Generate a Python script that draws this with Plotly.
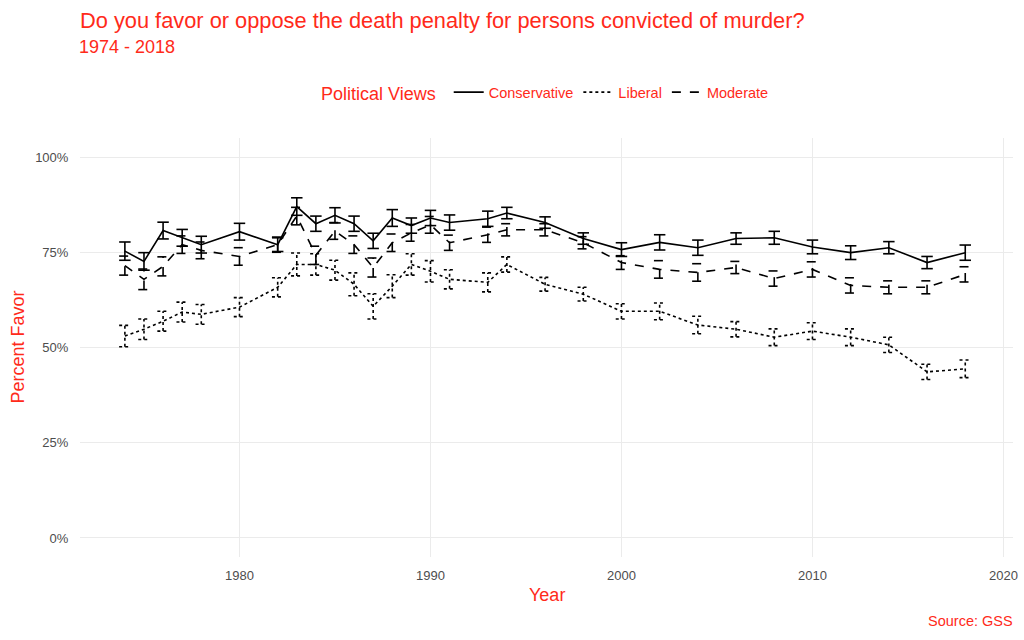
"""
Death penalty support by political views (GSS, 1974-2018).
"""

import plotly.graph_objects as go

RED = "#FF2A1A"
FONT = "Liberation Sans, Arial, sans-serif"

years = [1974, 1975, 1976, 1977, 1978, 1980, 1982, 1983, 1984, 1985,
         1986, 1987, 1988, 1989, 1990, 1991, 1993, 1994, 1996, 1998,
         2000, 2002, 2004, 2006, 2008, 2010, 2012, 2014, 2016, 2018]

# percent favor
conservative = [75.3, 72.6, 80.7, 78.8, 77.0, 80.4, 77.0, 87.0, 82.5, 84.7,
                82.5, 78.0, 84.0, 82.0, 84.0, 82.8, 83.8, 85.3, 82.8, 78.6,
                75.7, 77.6, 76.2, 78.6, 78.8, 76.4, 74.9, 76.2, 72.3, 74.9]
conservative_err = [2.4, 2.3, 2.2, 2.2, 2.2, 2.2, 1.8, 2.3, 2.0, 2.0,
                    2.0, 2.0, 2.2, 2.0, 2.0, 2.0, 2.0, 1.5, 1.5, 1.5,
                    1.8, 2.0, 2.0, 1.5, 1.7, 1.8, 1.8, 1.6, 1.6, 2.0]

liberal = [53.0, 54.8, 56.9, 59.3, 58.7, 60.6, 65.8, 71.8, 71.8, 70.3,
           66.6, 60.8, 66.1, 71.8, 70.0, 67.9, 67.1, 71.8, 66.6, 64.0,
           59.5, 59.5, 55.9, 54.8, 52.7, 54.3, 52.7, 50.7, 43.6, 44.4]
liberal_err = [2.8, 2.7, 2.6, 2.6, 2.6, 2.5, 2.5, 3.0, 2.8, 2.6,
               3.0, 3.3, 3.0, 2.8, 2.8, 2.5, 2.5, 2.0, 1.8, 1.8,
               2.0, 2.2, 2.3, 2.0, 2.2, 2.2, 2.2, 2.0, 2.0, 2.3]

moderate = [71.5, 67.9, 71.3, 77.0, 75.5, 73.9, 77.0, 84.5, 74.2, 80.6,
            77.0, 71.0, 77.5, 80.1, 82.2, 77.5, 79.6, 80.9, 80.9, 77.5,
            72.3, 70.5, 69.7, 71.0, 68.1, 70.5, 66.3, 65.8, 65.8, 69.2]
moderate_err = [2.5, 2.7, 2.5, 2.3, 2.2, 2.3, 2.0, 2.3, 2.4, 2.2,
                2.3, 2.5, 2.3, 2.2, 2.2, 2.0, 2.0, 1.6, 1.6, 1.6,
                1.8, 2.3, 2.3, 1.6, 2.0, 2.0, 2.0, 1.7, 1.7, 2.0]

x_ticks = [1980, 1990, 2000, 2010, 2020]
y_ticks = [0, 25, 50, 75, 100]
y_labels = ["0%", "25%", "50%", "75%", "100%"]

series = [
    ("Conservative", conservative, conservative_err, "solid"),
    ("Liberal", liberal, liberal_err, "dot"),
    ("Moderate", moderate, moderate_err, "dash"),
]

CAP = 0.3  # half width of error bar caps, in years


def errorbar_path(xs, ys, errs):
    """Vertical bar + two caps per point, joined with None breaks."""
    px, py = [], []
    for x, y, e in zip(xs, ys, errs):
        lo, hi = y - e, y + e
        px += [x, x, None, x - CAP, x + CAP, None, x - CAP, x + CAP, None]
        py += [lo, hi, None, lo, lo, None, hi, hi, None]
    return px, py


fig = go.Figure()

for name, vals, errs, dash in series:
    ex, ey = errorbar_path(years, vals, errs)
    fig.add_trace(go.Scatter(
        x=ex, y=ey, mode="lines", showlegend=False, hoverinfo="skip",
        line=dict(color="black", width=1.6, dash=dash),
    ))
    fig.add_trace(go.Scatter(
        x=years, y=vals, mode="lines", name=name,
        line=dict(color="black", width=1.6, dash=dash),
    ))

fig.update_layout(
    width=1024, height=640,
    margin=dict(l=80, r=11, t=138, b=83),
    plot_bgcolor="white", paper_bgcolor="white",
    font=dict(family=FONT, color="#4D4D4D"),
    title=dict(
        text="Do you favor or oppose the death penalty for persons convicted of murder?",
        font=dict(size=21.8, color=RED, family=FONT),
        xref="container", x=80 / 1024, xanchor="left",
        yref="container", y=1 - 20 / 640, yanchor="middle",
    ),
    legend=dict(
        orientation="h", x=0.5, xanchor="center", y=1.107, yanchor="middle",
        title=dict(text="Political Views ", font=dict(size=18, color=RED)),
        font=dict(size=14.5, color=RED),
        itemwidth=30,
    ),
    showlegend=True,
)

fig.add_annotation(
    text="1974 - 2018", xref="paper", yref="paper", x=0, y=1,
    xanchor="left", yanchor="middle", yshift=138 - 47, xshift=-3,
    showarrow=False, font=dict(size=18, color=RED),
)
fig.add_annotation(
    text="Source: GSS", xref="paper", yref="paper", x=1, y=0,
    xanchor="right", yanchor="middle", yshift=-(621 - 557), xshift=2,
    showarrow=False, font=dict(size=14.5, color=RED),
)
fig.add_annotation(
    text="Year", xref="paper", yref="paper", x=0.5, y=0,
    xanchor="center", yanchor="middle", yshift=-38, showarrow=False,
    font=dict(size=18, color=RED),
)
fig.add_annotation(
    text="Percent Favor", xref="paper", yref="paper", x=0, y=0.5,
    xanchor="center", yanchor="middle", xshift=-63, textangle=-90,
    showarrow=False, font=dict(size=18, color=RED),
)

fig.update_xaxes(
    range=[1971.65, 2020.5], tickvals=x_ticks, automargin=False,
    showgrid=True, gridcolor="#EBEBEB", gridwidth=1.2, zeroline=False,
    showline=False, ticks="outside", ticklen=6, tickcolor="rgba(0,0,0,0)",
    tickfont=dict(size=13, color="#4D4D4D"),
)
fig.update_yaxes(
    range=[-5, 105], tickvals=y_ticks, ticktext=y_labels, automargin=False,
    showgrid=True, gridcolor="#EBEBEB", gridwidth=1.2, zeroline=False,
    showline=False, ticks="outside", ticklen=8, tickcolor="rgba(0,0,0,0)",
    tickfont=dict(size=13, color="#4D4D4D"),
)

# drop the browser's default body margin so the figure sits at the window origin
fig.write_html(
    "out.html",
    config={"displayModeBar": False},
    post_script="document.body.style.margin='0';document.body.style.overflow='hidden';",
)
